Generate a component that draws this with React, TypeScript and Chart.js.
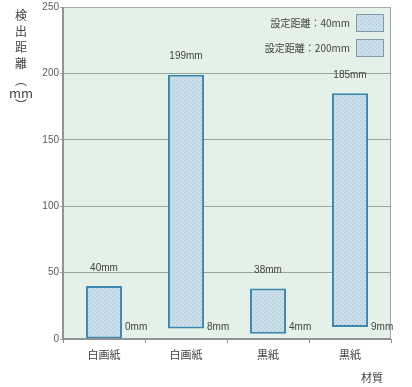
import React, { useEffect, useRef } from "react";
import { Chart, registerables } from "chart.js";

Chart.register(...registerables);

const categories = ["白画紙", "白画紙", "黒紙", "黒紙"];
const seriesNames = ["設定距離：40mm", "設定距離：200mm"];
const set40Min = [0, null, 4, null];
const set40Max = [40, null, 38, null];
const set200Min = [null, 8, null, 9];
const set200Max = [null, 199, null, 185];
const yTicks = [0, 50, 100, 150, 200, 250];
const yTitleChars = ["検", "出", "距", "離", "︵", "mm", "︶"];
const xTitle = "材質";

const FONT = '"Liberation Sans", "Noto Sans CJK JP", sans-serif';
const CJK = '"Noto Sans CJK JP", sans-serif';

function makePattern(): CanvasPattern | string {
  const c = document.createElement("canvas");
  c.width = 4;
  c.height = 4;
  const g = c.getContext("2d");
  if (!g) return "#c8dde9";
  g.fillStyle = "#cadfea";
  g.fillRect(0, 0, 4, 4);
  g.fillStyle = "#a7c1d4";
  g.fillRect(0, 0, 1, 1);
  g.fillRect(2, 2, 1, 1);
  const p = g.createPattern(c, "repeat");
  return p || "#c8dde9";
}

function pairs(mins: (number | null)[], maxs: (number | null)[]) {
  return mins.map((m, i) => (m === null || maxs[i] === null ? null : [m, maxs[i] as number]));
}

export default function App() {
  const ref = useRef<HTMLCanvasElement | null>(null);

  useEffect(() => {
    document.body.style.margin = "0";
    const canvas = ref.current;
    if (!canvas) return;
    const pattern = makePattern();

    const bgPlugin = {
      id: "plotBg",
      beforeDraw(chart: any) {
        const { ctx, chartArea: a } = chart;
        ctx.save();
        ctx.fillStyle = "#e3f1e8";
        ctx.fillRect(a.left, a.top, a.right - a.left, a.bottom - a.top);
        ctx.restore();
      },
    };

    const labelPlugin = {
      id: "labels",
      afterDatasetsDraw(chart: any) {
        const { ctx, chartArea: a } = chart;
        ctx.save();
        ctx.strokeStyle = "#a3aaa6";
        ctx.lineWidth = 1;
        ctx.strokeRect(a.left + 0.5, a.top + 0.5, a.right - a.left - 1, a.bottom - a.top);
        ctx.strokeStyle = "#8e9591";
        ctx.lineWidth = 2;
        ctx.beginPath();
        ctx.moveTo(a.left, a.top);
        ctx.lineTo(a.left, a.bottom);
        ctx.lineTo(a.right, a.bottom);
        ctx.stroke();

        ctx.font = "10px " + FONT;
        ctx.fillStyle = "#444";
        chart.data.datasets.forEach((ds: any, di: number) => {
          const meta = chart.getDatasetMeta(di);
          ds.data.forEach((v: any, i: number) => {
            if (!v) return;
            const el = meta.data[i];
            ctx.textAlign = "center";
            ctx.textBaseline = "middle";
            ctx.fillText(v[1] + "mm", el.x, el.y - 18);
            ctx.textAlign = "left";
            ctx.fillText(v[0] + "mm", el.x + el.width / 2 + 3, a.bottom - 12);
          });
        });

        const lx = a.right - 35;
        seriesNames.forEach((name, i) => {
          const by = a.top + 7 + i * 25;
          ctx.textAlign = "right";
          ctx.textBaseline = "middle";
          ctx.font = "10px " + CJK;
          ctx.fillStyle = "#444";
          ctx.fillText(name, lx - 6, by + 9);
          ctx.fillStyle = pattern as any;
          ctx.fillRect(lx, by, 28, 18);
          ctx.strokeStyle = "#7f98aa";
          ctx.lineWidth = 1;
          ctx.strokeRect(lx + 0.5, by + 0.5, 27, 17);
        });

        ctx.fillStyle = "#444";
        ctx.textAlign = "center";
        ctx.textBaseline = "middle";
        const ys = [15, 31, 47, 63, 80, 93, 105];
        yTitleChars.forEach((ch, i) => {
          ctx.font = (ch === "mm" ? "13px " : "12px ") + CJK;
          ctx.fillText(ch, 21, ys[i]);
        });

        ctx.font = "11px " + CJK;
        ctx.textAlign = "center";
        ctx.fillText(xTitle, 372, 378);
        ctx.restore();
      },
    };

    const chart = new Chart(canvas, {
      type: "bar",
      data: {
        labels: categories,
        datasets: [
          {
            label: seriesNames[0],
            data: pairs(set40Min, set40Max) as any,
            backgroundColor: pattern as any,
            borderColor: "#3d86ad",
            borderWidth: 2,
            borderSkipped: false,
            grouped: false,
            barPercentage: 0.44,
            categoryPercentage: 1,
          },
          {
            label: seriesNames[1],
            data: pairs(set200Min, set200Max) as any,
            backgroundColor: pattern as any,
            borderColor: "#3d86ad",
            borderWidth: 2,
            borderSkipped: false,
            grouped: false,
            barPercentage: 0.44,
            categoryPercentage: 1,
          },
        ],
      },
      options: {
        animation: false,
        responsive: false,
        maintainAspectRatio: false,
        layout: { padding: { top: 5, right: 21, left: 0, bottom: 0 } },
        plugins: {
          legend: { display: false },
          tooltip: { enabled: false },
        },
        scales: {
          x: {
            grid: {
              display: true,
              drawOnChartArea: false,
              offset: true,
              tickLength: 4,
              color: "#8e9591",
            },
            border: { display: false },
            ticks: {
              color: "#444",
              font: { size: 11, family: CJK },
              padding: 5,
            },
            afterFit(scale: any) {
              scale.height = 48;
            },
          },
          y: {
            min: 0,
            max: 250,
            afterBuildTicks(scale: any) {
              scale.ticks = yTicks.map((v) => ({ value: v }));
            },
            grid: {
              color: "#97a69c",
              lineWidth: 1,
              tickLength: 3,
            },
            border: { display: false },
            ticks: {
              color: "#5a5a5a",
              font: { size: 10, family: FONT },
              padding: 1,
            },
            afterFit(scale: any) {
              scale.width = 63;
            },
          },
        },
      },
      plugins: [bgPlugin, labelPlugin],
    });

    return () => chart.destroy();
  }, []);

  return (
    <div style={{ width: 412, height: 387 }}>
      <canvas ref={ref} width={412} height={387} style={{ display: "block" }} />
    </div>
  );
}
